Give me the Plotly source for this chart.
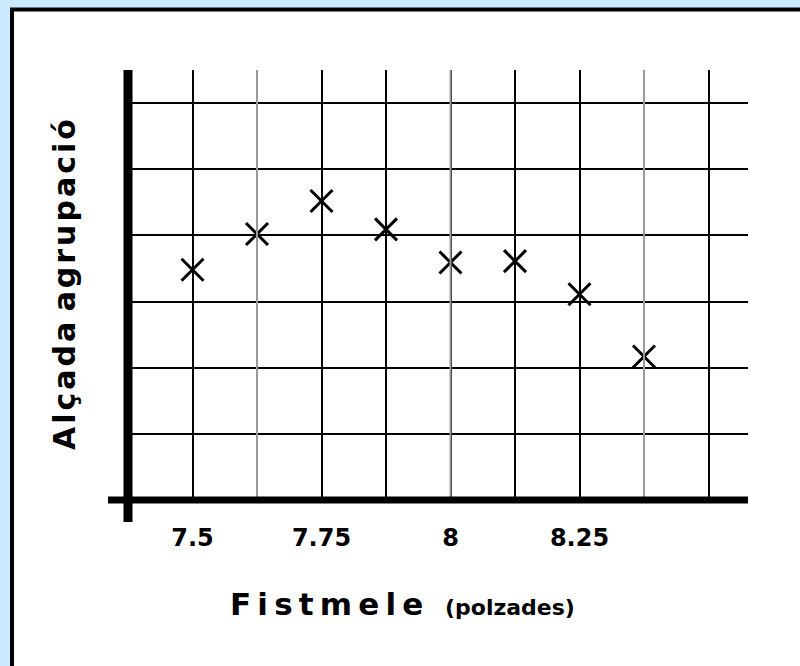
import plotly.graph_objects as go

# data
fistmele = [7.5, 7.625, 7.75, 7.875, 8.0, 8.125, 8.25, 8.375]
alcada = [3.48, 4.02, 4.52, 4.09, 3.59, 3.61, 3.11, 2.17]

tick_vals = [7.5, 7.75, 8.0, 8.25]
tick_text = ["7.5", "7.75", "8", "8.25"]
grey_grid = [7.625, 8.0, 8.375]

W, H = 800, 666
L, R, T, B = 128, 52, 70, 166
PW, PH = W - L - R, H - T - B
BLUE = "#cceaff"


def px(p):  # pixel x -> paper x
    return (p - L) / PW


def py(p):  # pixel y -> paper y
    return (H - B - p) / PH


def spaced(s, sep):
    return sep.join(s)


FONT = "DejaVu Sans"

fig = go.Figure()
fig.add_trace(go.Scatter(
    x=fistmele, y=alcada, mode="markers",
    marker=dict(symbol="x-thin", size=22, color="black",
                line=dict(color="black", width=3)),
    showlegend=False, hoverinfo="x+y",
))

shapes = [
    # white card with black border, running off the right and bottom edges
    dict(type="rect", xref="paper", yref="paper",
         x0=px(12), x1=px(830), y0=py(700), y1=py(9.5),
         fillcolor="white", line=dict(color="black", width=4), layer="below"),
]
for gx in grey_grid:
    shapes.append(dict(type="line", xref="x", yref="paper", x0=gx, x1=gx, y0=0, y1=1,
                       line=dict(color="#9a9a9a", width=2)))
# heavy axes
shapes.append(dict(type="line", xref="paper", yref="paper", x0=0, x1=0,
                   y0=py(522), y1=1, line=dict(color="black", width=9)))
shapes.append(dict(type="line", xref="paper", yref="paper", x0=px(108), x1=1,
                   y0=0, y1=0, line=dict(color="black", width=7)))

y_title = " ".join(spaced(w, "\u200a") for w in "Alçada agrupació".split(" "))
x_title = (spaced("Fistmele", "\u2009")
           + "  <span style='font-size:22px'>(polzades)</span>")

fig.update_layout(
    width=W, height=H,
    margin=dict(l=L, r=R, t=T, b=B),
    paper_bgcolor=BLUE, plot_bgcolor="rgba(0,0,0,0)",
    shapes=shapes,
    xaxis=dict(
        range=[7.375, 7.375 + PW / 516], tickmode="array",
        tickvals=tick_vals, ticktext=tick_text,
        showgrid=True, gridcolor="black", gridwidth=2,
        minor=dict(tickmode="linear", tick0=7.5, dtick=0.125, showgrid=True,
                   gridcolor="black", gridwidth=2),
        zeroline=False, showline=False, ticks="",
        ticklabelstandoff=21,
        tickfont=dict(family=FONT, size=24, color="black", weight="bold"),
    ),
    yaxis=dict(
        range=[0, 6.5], dtick=1, showgrid=True, gridcolor="black", gridwidth=2,
        showticklabels=False, zeroline=False, showline=False, ticks="",
    ),
    annotations=[
        dict(xref="paper", yref="paper", x=px(64), y=py(285), textangle=-90,
             xanchor="center", yanchor="middle",
             text=y_title, showarrow=False,
             font=dict(family=FONT, size=30, color="black", weight="bold")),
        dict(xref="paper", yref="paper", x=px(402), y=py(604),
             xanchor="center", yanchor="middle",
             text=x_title, showarrow=False,
             font=dict(family=FONT, size=31, color="black", weight="bold")),
    ],
)

fig.write_html(
    "out.html",
    config=dict(displayModeBar=False),
    post_script="document.body.style.margin='0';"
                "document.body.style.background='" + BLUE + "';",
)
